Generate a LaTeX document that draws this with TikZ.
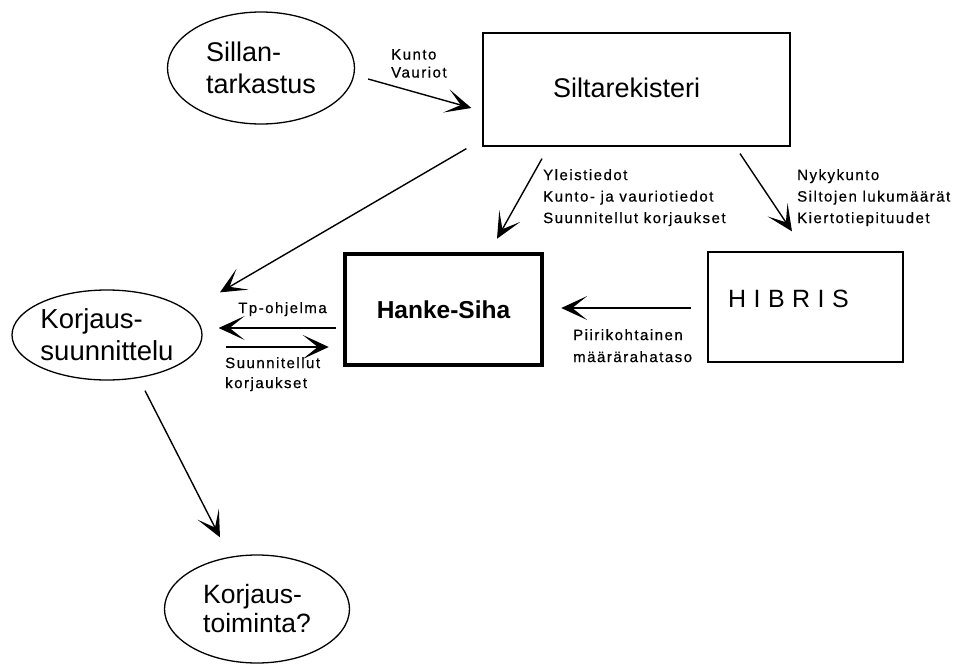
\documentclass[tikz,border=0pt]{standalone}
\usepackage{fontspec}
\setmainfont{Liberation Sans}
\newfontfamily\lblfont[LetterSpace=10,FakeBold=0.6]{Liberation Sans}
\newfontfamily\hibfont[LetterSpace=30]{Liberation Sans}
\usetikzlibrary{arrows.meta,shapes.geometric,calc}
\tikzset{
  ellnode/.style={draw, line width=1.3pt, ellipse, inner sep=0pt, align=left},
  boxnode/.style={draw, line width=1.2pt, rectangle, inner sep=0pt},
  arr/.style={line width=1.4pt, -{Stealth[length=26pt,width=24pt,inset=15pt]}},
  lbl/.style={inner sep=0pt, anchor=north west, align=left, font=\lblfont\fontsize{15}{21.5}\selectfont}
}
\begin{document}
\begin{tikzpicture}[x=1pt,y=-1pt]
\useasboundingbox (0,0) rectangle (978,664);
\fill[white] (0,0) rectangle (978,664);

% nodes
\node[ellnode, minimum width=187pt, minimum height=112pt,
      font=\fontsize{27}{32}\selectfont] (st) at (261,68) {Sillan-\\tarkastus};
\node[boxnode, minimum height=113pt, text width=167pt, inner xsep=70pt,
      text height=20pt, text depth=5pt, align=left,
      font=\fontsize{27}{32}\selectfont] (sr) at (636.5,89.5) {Siltarekisteri};
\node[boxnode, line width=4.5pt, minimum width=197pt, minimum height=111pt,
      text height=20pt, text depth=3pt,
      font=\bfseries\fontsize{24.5}{30}\selectfont] (hs) at (443.5,309.5) {Hanke-Siha};
\node[boxnode, minimum height=110pt, text width=155pt, inner xsep=20pt,
      text height=20pt, text depth=20pt, align=left,
      font=\hibfont\fontsize{25}{30}\selectfont] (hb) at (805.5,307) {HIBRIS};
\node[ellnode, minimum width=190pt, minimum height=90pt,
      font=\fontsize{27.5}{32}\selectfont] (ek) at (107,335) {Korjaus-\\suunnittelu};
\node[ellnode, minimum width=185pt, minimum height=108pt,
      font=\fontsize{26.5}{29}\selectfont] (et) at (257,609) {Korjaus-\\toiminta?};

% connectors
\draw[arr] ($(st.east)+(13,11)$) -- ($(sr.west)+(-11,18.5)$);
\draw[arr] ($(sr.south west)+(-16,2)$) -- ($(ek.north)+(113,3)$);
\draw[arr] ($(sr.south)+(-94.5,12)$) -- ($(hs.north)+(53.5,-13)$);
\draw[arr] ($(sr.south)+(103.5,7)$) -- ($(hb.north)+(-13.5,-20)$);
\draw[arr] ($(hb.west)+(-16,1)$) -- ($(hs.east)+(17,-1.5)$);
\draw[arr] ($(hs.west)+(-7,18.5)$) -- ($(ek.east)+(16,-7)$);
\draw[arr] ($(ek.east)+(23,12)$) -- ($(hs.west)+(-14,37.5)$);
\draw[arr] ($(ek.south)+(38,10)$) -- ($(et.north)+(-37,-17)$);

% labels
\node[lbl, font=\lblfont\fontsize{15}{18}\selectfont] (l1) at (391,49) {Kunto\\Vauriot};
\node[lbl] (l2) at (543,169) {Yleistiedot\\Kunto- ja vauriotiedot\\Suunnitellut korjaukset};
\node[lbl] (l3) at (797,169) {Nykykunto\\Siltojen lukumäärät\\Kiertotiepituudet};
\node[lbl] (l4) at (238,302) {Tp-ohjelma};
\node[lbl, font=\lblfont\fontsize{15}{20}\selectfont] (l5) at (225,357) {Suunnitellut\\korjaukset};
\node[lbl, font=\lblfont\fontsize{15}{22}\selectfont] (l6) at (573,329) {Piirikohtainen\\määrärahataso};
\end{tikzpicture}
\end{document}
